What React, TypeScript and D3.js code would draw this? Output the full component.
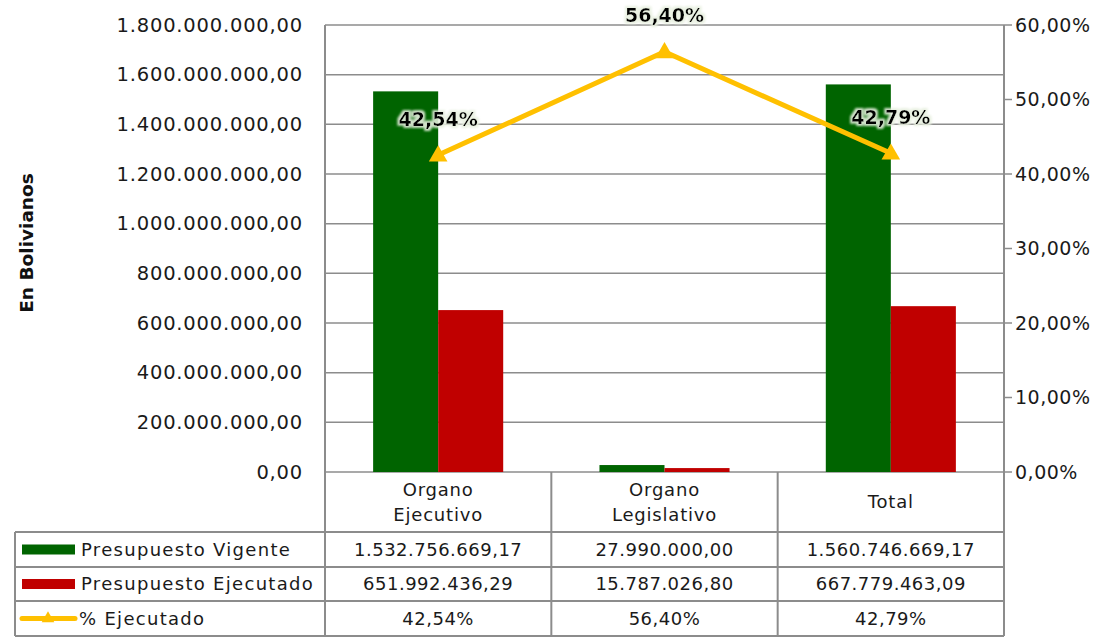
import React from 'react';
import * as d3 from 'd3';

const categories = [['Organo', 'Ejecutivo'], ['Organo', 'Legislativo'], ['Total']];
const presupuestoVigente = [1532756669.17, 27990000.0, 1560746669.17];
const presupuestoEjecutado = [651992436.29, 15787026.8, 667779463.09];
const porcentajeEjecutado = [0.4254, 0.564, 0.4279];
const leftTicks = [0, 200e6, 400e6, 600e6, 800e6, 1000e6, 1200e6, 1400e6, 1600e6, 1800e6];
const rightTicks = [0, 0.1, 0.2, 0.3, 0.4, 0.5, 0.6];
const seriesNames = ['Presupuesto Vigente', 'Presupuesto Ejecutado', '% Ejecutado'];

const width = 1112;
const height = 637;
const plot = { left: 325, right: 1004, top: 25, bottom: 472 };
const tableLeft = 15;
const rowLines = [472, 532, 567, 601, 636];
const font = '"DejaVu Sans", sans-serif';
const gridColor = '#8c8c8c';
const textColor = '#1a1a1a';
const green = '#006400';
const red = '#C00000';
const yellow = '#FFC000';

const esLocale = d3.formatLocale({ decimal: ',', thousands: '.', grouping: [3], currency: ['', ''] });
const fmtNum = esLocale.format(',.2f');
const fmtPct = esLocale.format('.2%');

const App = () => {
  const keys = categories.map((c) => c.join(' '));
  const x = d3.scaleBand<string>().domain(keys).range([plot.left, plot.right]);
  const inner = d3
    .scaleBand<string>()
    .domain(['v', 'e'])
    .range([0, x.bandwidth()])
    .paddingInner(0)
    .paddingOuter(0.74);
  const yLeft = d3.scaleLinear().domain([0, 1.8e9]).range([plot.bottom, plot.top]);
  const yRight = d3.scaleLinear().domain([0, 0.6]).range([plot.bottom, plot.top]);

  const linePath = d3
    .line<number>()
    .x((_, i) => x(keys[i])! + x.bandwidth() / 2)
    .y((d) => yRight(d))(porcentajeEjecutado);

  const tri = d3.symbol().type(d3.symbolTriangle).size(150)();

  const rowValues = [
    presupuestoVigente.map(fmtNum),
    presupuestoEjecutado.map(fmtNum),
    porcentajeEjecutado.map(fmtPct),
  ];

  return (
    <svg width={width} height={height} style={{ display: 'block', position: 'absolute', left: 0, top: 0, background: '#fff' }}>
      <defs>
        <filter id="glow" x="-20%" y="-30%" width="140%" height="160%">
          <feMorphology in="SourceAlpha" operator="dilate" radius="1.5" result="d" />
          <feGaussianBlur in="d" stdDeviation="1.2" result="b" />
          <feFlood floodColor="#e8f0e0" floodOpacity="0.9" />
          <feComposite in2="b" operator="in" result="g" />
          <feMerge>
            <feMergeNode in="g" />
            <feMergeNode in="SourceGraphic" />
          </feMerge>
        </filter>
      </defs>

      {/* gridlines */}
      {leftTicks.map((t) => (
        <line key={t} x1={plot.left} x2={plot.right} y1={yLeft(t)} y2={yLeft(t)} stroke={gridColor} strokeWidth={1.5} />
      ))}

      {/* bars */}
      {keys.map((k, i) => (
        <g key={k}>
          <rect x={x(k)! + inner('v')!} y={yLeft(presupuestoVigente[i])} width={inner.bandwidth()} height={plot.bottom - yLeft(presupuestoVigente[i])} fill={green} />
          <rect x={x(k)! + inner('e')!} y={yLeft(presupuestoEjecutado[i])} width={inner.bandwidth()} height={plot.bottom - yLeft(presupuestoEjecutado[i])} fill={red} />
        </g>
      ))}

      {/* axes */}
      <line x1={plot.left} x2={plot.left} y1={plot.top} y2={rowLines[4]} stroke={gridColor} strokeWidth={2} />
      <line x1={plot.right} x2={plot.right} y1={plot.top} y2={rowLines[4]} stroke={gridColor} strokeWidth={2} />
      {rightTicks.map((t) => (
        <g key={t}>
          <line x1={plot.right} x2={plot.right + 8} y1={yRight(t)} y2={yRight(t)} stroke={gridColor} strokeWidth={1.5} />
          <text x={1015} y={yRight(t)} dy="0.35em" fontFamily={font} fontSize={19} letterSpacing={0.5} fill={textColor}>
            {fmtPct(t)}
          </text>
        </g>
      ))}
      {leftTicks.map((t) => (
        <text key={t} x={303} y={yLeft(t)} dy="0.35em" textAnchor="end" fontFamily={font} fontSize={19.5} letterSpacing={0.8} fill={textColor}>
          {fmtNum(t)}
        </text>
      ))}
      <text transform={`translate(33,243) rotate(-90)`} textAnchor="middle" fontFamily={font} fontSize={18.5} fontWeight="bold" fill="#111">
        En Bolivianos
      </text>

      {/* line series */}
      <path d={linePath!} fill="none" stroke={yellow} strokeWidth={5} strokeLinejoin="round" />
      {porcentajeEjecutado.map((p, i) => (
        <g key={i} transform={`translate(${x(keys[i])! + x.bandwidth() / 2},${yRight(p) + 1})`}>
          <path d={tri!} fill={yellow} />
          <text y={-37} dy="0.35em" textAnchor="middle" fontFamily={font} fontSize={19} fontWeight="bold" fill="#000" filter="url(#glow)">
            {fmtPct(p)}
          </text>
        </g>
      ))}

      {/* data table */}
      {rowLines.slice(1).map((y) => (
        <line key={y} x1={tableLeft} x2={plot.right} y1={y} y2={y} stroke={gridColor} strokeWidth={2} />
      ))}
      <line x1={tableLeft} x2={tableLeft} y1={rowLines[1]} y2={rowLines[4]} stroke={gridColor} strokeWidth={2} />
      {keys.slice(1).map((k) => (
        <line key={k} x1={x(k)!} x2={x(k)!} y1={rowLines[0]} y2={rowLines[4]} stroke={gridColor} strokeWidth={2} />
      ))}
      {categories.map((c, i) => (
        <text key={i} x={x(keys[i])! + x.bandwidth() / 2} y={(rowLines[0] + rowLines[1]) / 2 - ((c.length - 1) * 25) / 2} dy="0.35em" textAnchor="middle" fontFamily={font} fontSize={18} letterSpacing={0.8} fill={textColor}>
          {c.map((line, j) => (
            <tspan key={j} x={x(keys[i])! + x.bandwidth() / 2} dy={j === 0 ? '0.35em' : 25}>
              {line}
            </tspan>
          ))}
        </text>
      ))}
      {seriesNames.map((name, r) => {
        const cy = (rowLines[r + 1] + rowLines[r + 2]) / 2;
        return (
          <g key={name}>
            {r < 2 ? (
              <rect x={22} y={cy - 5} width={53} height={10} fill={r === 0 ? green : red} />
            ) : (
              <g>
                <line x1={22} x2={75} y1={cy} y2={cy} stroke={yellow} strokeWidth={5} strokeLinecap="round" />
                <path d={d3.symbol().type(d3.symbolTriangle).size(70)()!} transform={`translate(48,${cy})`} fill={yellow} />
              </g>
            )}
            <text x={r < 2 ? 81 : 79} y={cy} dy="0.35em" fontFamily={font} fontSize={18} letterSpacing={1.3} fill={textColor}>
              {name}
            </text>
            {rowValues[r].map((v, i) => (
              <text key={i} x={x(keys[i])! + x.bandwidth() / 2} y={cy} dy="0.35em" textAnchor="middle" fontFamily={font} fontSize={18} letterSpacing={0.5} fill={textColor}>
                {v}
              </text>
            ))}
          </g>
        );
      })}
    </svg>
  );
};

export default App;
